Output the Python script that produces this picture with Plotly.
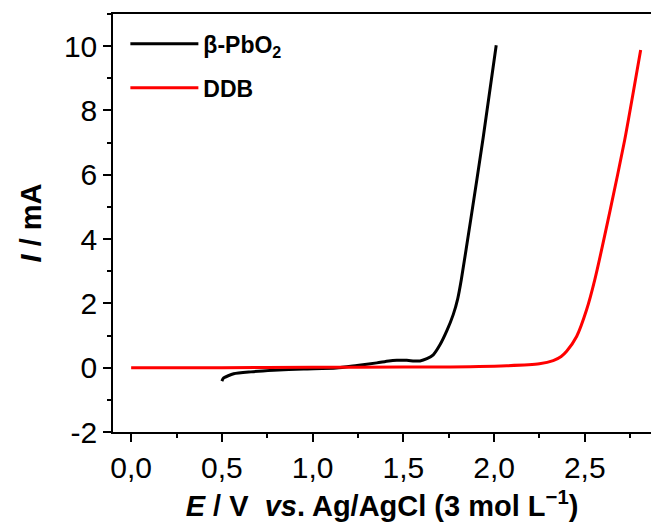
import plotly.graph_objects as go

# beta-PbO2 polarization curve
pbo2_E = [0.50, 0.51, 0.565, 0.66, 0.785, 0.95, 1.13, 1.245, 1.354, 1.42, 1.464, 1.519,
          1.56, 1.592, 1.63, 1.665, 1.702, 1.74, 1.775, 1.80, 1.82, 1.87, 1.94, 2.012]
pbo2_I = [-0.42, -0.32, -0.19, -0.13, -0.08, -0.04, -0.01, 0.07, 0.15, 0.21, 0.23, 0.23,
          0.21, 0.21, 0.28, 0.40, 0.71, 1.15, 1.65, 2.15, 2.75, 4.55, 7.15, 10.03]

# DDB polarization curve
ddb_E = [0.0, 0.5, 1.0, 1.5, 1.7, 2.07, 2.25, 2.326, 2.37, 2.40, 2.455, 2.51, 2.555,
         2.64, 2.72, 2.808]
ddb_I = [0.0, 0.0, 0.01, 0.02, 0.02, 0.06, 0.12, 0.22, 0.35, 0.51, 0.97, 1.80, 2.73,
         4.90, 7.08, 9.88]

series_names = ["β-PbO<sub>2</sub>", "DDB"]
series_colors = ["#000000", "#ff0000"]

x_tickvals = [0.0, 0.5, 1.0, 1.5, 2.0, 2.5]
x_ticktext = ["0,0", "0,5", "1,0", "1,5", "2,0", "2,5"]
y_tickvals = [-2, 0, 2, 4, 6, 8, 10]
y_ticktext = ["-2", "0", "2", "4", "6", "8", "10"]

FONT = "Liberation Sans, Arial, sans-serif"

fig = go.Figure()
for (xs, ys), name, col, grp in zip([(pbo2_E, pbo2_I), (ddb_E, ddb_I)],
                                    series_names, series_colors, ["a", "b"]):
    fig.add_trace(go.Scatter(
        x=xs, y=ys, mode="lines", name="<b>" + name + "</b>", legendgroup=grp,
        line=dict(color=col, width=3, shape="spline", smoothing=0.6),
    ))

axis_common = dict(
    showline=True, linecolor="black", linewidth=1.5, mirror=True,
    ticks="outside", ticklen=8, tickwidth=1.5, tickcolor="black",
    showgrid=False, zeroline=False,
    tickfont=dict(family=FONT, size=30, color="black"),
)

fig.update_xaxes(
    range=[-0.1, 2.865], tickvals=x_tickvals, ticktext=x_ticktext,
    minor=dict(dtick=0.25, ticks="outside", ticklen=4, tickwidth=1.5, tickcolor="black"),
    title=dict(text="<b><i>E</i> / V  <i>vs</i>. Ag/AgCl (3 mol L<sup>−1</sup>)</b>",
               font=dict(family=FONT, size=29, color="black"), standoff=14),
    **axis_common,
)
fig.update_yaxes(
    range=[-2, 11], tickvals=y_tickvals, ticktext=y_ticktext,
    minor=dict(dtick=1, ticks="outside", ticklen=4, tickwidth=1.5, tickcolor="black"),
    title=dict(text="<b><i>I</i> / mA</b>",
               font=dict(family=FONT, size=29, color="black"), standoff=14),
    **axis_common,
)

fig.update_layout(
    width=651, height=522,
    margin=dict(l=113, r=0, t=14, b=90, autoexpand=False),
    plot_bgcolor="white", paper_bgcolor="white",
    showlegend=True,
    legend=dict(
        x=0.023, y=0.98, xanchor="left", yanchor="top",
        bgcolor="rgba(0,0,0,0)", borderwidth=0,
        font=dict(family=FONT, size=23, color="black"),
        itemwidth=68, tracegroupgap=11,
    ),
)

fig.write_html(
    "out.html",
    config={"displayModeBar": False},
    post_script="document.body.style.margin='0';document.body.style.overflow='hidden';",
)
